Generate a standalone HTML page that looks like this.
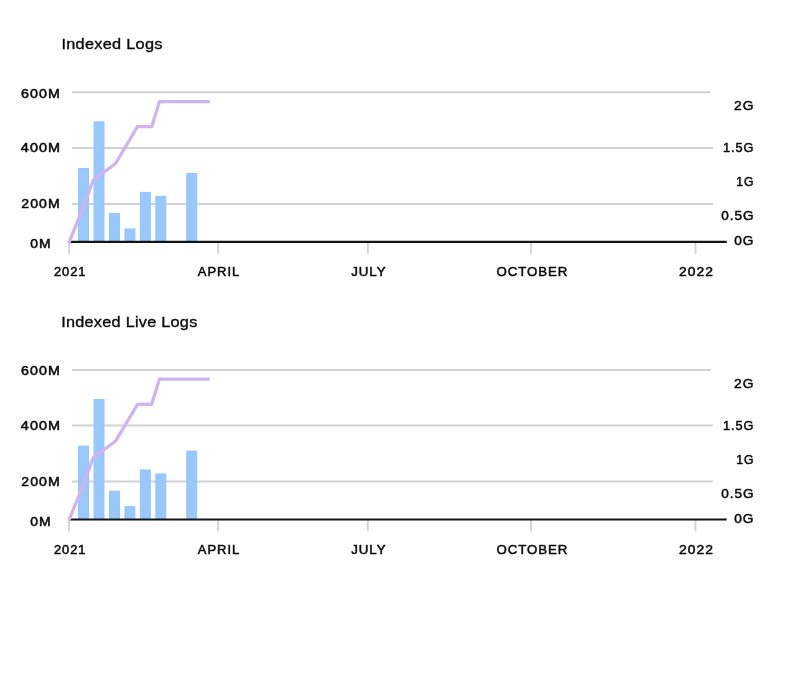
<!DOCTYPE html>
<html lang="en">
<head>
<meta charset="utf-8">
<title>Indexed Logs</title>
<style>
html,body{margin:0;padding:0;background:#fff;}
body{width:800px;height:690px;overflow:hidden;}
svg{display:block;will-change:transform;}
text{font-family:"Liberation Sans",Arial,sans-serif;fill:#0a0a0a;}
.title{font-size:15.3px;font-weight:400;letter-spacing:0.25px;stroke:#0a0a0a;stroke-width:0.35px;}
.lab{font-size:12.4px;font-weight:400;letter-spacing:0.9px;stroke:#0a0a0a;stroke-width:0.5px;stroke-linejoin:round;}
.grid{stroke:#d3d2d2;stroke-width:2;}
.tick{stroke:#d6d5d5;stroke-width:2;}
.axis{stroke:#141414;stroke-width:2.2;}
.bar{fill:#98c8fe;stroke:#8ec4ff;stroke-width:1;}
.ln{fill:none;stroke:#d0b4f2;stroke-width:3.25;stroke-linejoin:round;stroke-linecap:butt;}
</style>
</head>
<body>
<svg width="800" height="690" viewBox="0 0 800 690">
<rect x="0" y="0" width="800" height="690" fill="#ffffff"/>
<g transform="translate(0,0)">
<line class="grid" x1="72" y1="92.35" x2="710.7" y2="92.35"/>
<line class="grid" x1="72" y1="148.0" x2="712.9" y2="148.0"/>
<line class="grid" x1="72" y1="203.9" x2="712.9" y2="203.9"/>
<line class="tick" x1="69.0" y1="242.5" x2="69.0" y2="253.8"/>
<line class="tick" x1="218.1" y1="242.5" x2="218.1" y2="253.8"/>
<line class="tick" x1="367.8" y1="242.5" x2="367.8" y2="253.8"/>
<line class="tick" x1="531.0" y1="242.5" x2="531.0" y2="253.8"/>
<line class="tick" x1="695.4" y1="242.5" x2="695.4" y2="253.8"/>
<rect class="bar" x="78.60" y="168.60" width="9.9" height="72.9"/>
<rect class="bar" x="94.05" y="121.90" width="9.9" height="119.6"/>
<rect class="bar" x="109.50" y="213.60" width="9.9" height="27.9"/>
<rect class="bar" x="124.95" y="229.00" width="9.9" height="12.5"/>
<rect class="bar" x="140.40" y="192.40" width="9.9" height="49.1"/>
<rect class="bar" x="155.85" y="196.40" width="9.9" height="45.1"/>
<rect class="bar" x="186.75" y="173.50" width="9.9" height="68.0"/>
<line class="axis" x1="69" y1="241.9" x2="726.7" y2="241.9"/>
<polyline class="ln" points="68.75,243.1 81.8,210.9 93.3,180.0 115.4,163.7 137.5,126.7 151.7,126.7 159.5,101.5 209.9,101.5"/>
<text class="title" transform="translate(61.45,48.95) scale(1.0680,1)">Indexed Logs</text>
<text class="lab" transform="translate(21.08,97.70) scale(1.1517,1)">600M</text>
<text class="lab" transform="translate(20.86,152.40) scale(1.1652,1)">400M</text>
<text class="lab" transform="translate(21.37,208.00) scale(1.1369,1)">200M</text>
<text class="lab" transform="translate(30.35,248.20) scale(1.1226,1)">0M</text>
<text class="lab" transform="translate(53.95,276.10) scale(1.0389,1)">2021</text>
<text class="lab" transform="translate(197.84,276.10) scale(1.0495,1)">APRIL</text>
<text class="lab" transform="translate(351.13,276.10) scale(1.0719,1)">JULY</text>
<text class="lab" transform="translate(496.39,276.10) scale(1.0673,1)">OCTOBER</text>
<text class="lab" transform="translate(679.12,276.10) scale(1.1175,1)">2022</text>
<text class="lab" transform="translate(734.08,110.00) scale(1.1116,1)">2G</text>
<text class="lab" transform="translate(722.97,152.00) scale(1.0281,1)">1.5G</text>
<text class="lab" transform="translate(736.22,185.90) scale(0.9837,1)">1G</text>
<text class="lab" transform="translate(721.15,220.40) scale(1.0933,1)">0.5G</text>
<text class="lab" transform="translate(734.21,245.00) scale(1.1013,1)">0G</text>
</g>
<g transform="translate(0,277.6)">
<line class="grid" x1="72" y1="92.35" x2="710.7" y2="92.35"/>
<line class="grid" x1="72" y1="148.0" x2="712.9" y2="148.0"/>
<line class="grid" x1="72" y1="203.9" x2="712.9" y2="203.9"/>
<line class="tick" x1="69.0" y1="242.5" x2="69.0" y2="253.8"/>
<line class="tick" x1="218.1" y1="242.5" x2="218.1" y2="253.8"/>
<line class="tick" x1="367.8" y1="242.5" x2="367.8" y2="253.8"/>
<line class="tick" x1="531.0" y1="242.5" x2="531.0" y2="253.8"/>
<line class="tick" x1="695.4" y1="242.5" x2="695.4" y2="253.8"/>
<rect class="bar" x="78.60" y="168.60" width="9.9" height="72.9"/>
<rect class="bar" x="94.05" y="121.90" width="9.9" height="119.6"/>
<rect class="bar" x="109.50" y="213.60" width="9.9" height="27.9"/>
<rect class="bar" x="124.95" y="229.00" width="9.9" height="12.5"/>
<rect class="bar" x="140.40" y="192.40" width="9.9" height="49.1"/>
<rect class="bar" x="155.85" y="196.40" width="9.9" height="45.1"/>
<rect class="bar" x="186.75" y="173.50" width="9.9" height="68.0"/>
<line class="axis" x1="69" y1="241.9" x2="726.7" y2="241.9"/>
<polyline class="ln" points="68.75,243.1 81.8,210.9 93.3,180.0 115.4,163.7 137.5,126.7 151.7,126.7 159.5,101.5 209.9,101.5"/>
<text class="title" transform="translate(61.20,49.40) scale(1.0630,1)">Indexed Live Logs</text>
<text class="lab" transform="translate(21.08,97.70) scale(1.1517,1)">600M</text>
<text class="lab" transform="translate(20.86,152.40) scale(1.1652,1)">400M</text>
<text class="lab" transform="translate(21.37,208.00) scale(1.1369,1)">200M</text>
<text class="lab" transform="translate(30.35,248.20) scale(1.1226,1)">0M</text>
<text class="lab" transform="translate(53.95,276.10) scale(1.0389,1)">2021</text>
<text class="lab" transform="translate(197.84,276.10) scale(1.0495,1)">APRIL</text>
<text class="lab" transform="translate(351.13,276.10) scale(1.0719,1)">JULY</text>
<text class="lab" transform="translate(496.39,276.10) scale(1.0673,1)">OCTOBER</text>
<text class="lab" transform="translate(679.12,276.10) scale(1.1175,1)">2022</text>
<text class="lab" transform="translate(734.08,110.00) scale(1.1116,1)">2G</text>
<text class="lab" transform="translate(722.97,152.00) scale(1.0281,1)">1.5G</text>
<text class="lab" transform="translate(736.22,185.90) scale(0.9837,1)">1G</text>
<text class="lab" transform="translate(721.15,220.40) scale(1.0933,1)">0.5G</text>
<text class="lab" transform="translate(734.21,245.00) scale(1.1013,1)">0G</text>
</g>
</svg>
</body>
</html>
